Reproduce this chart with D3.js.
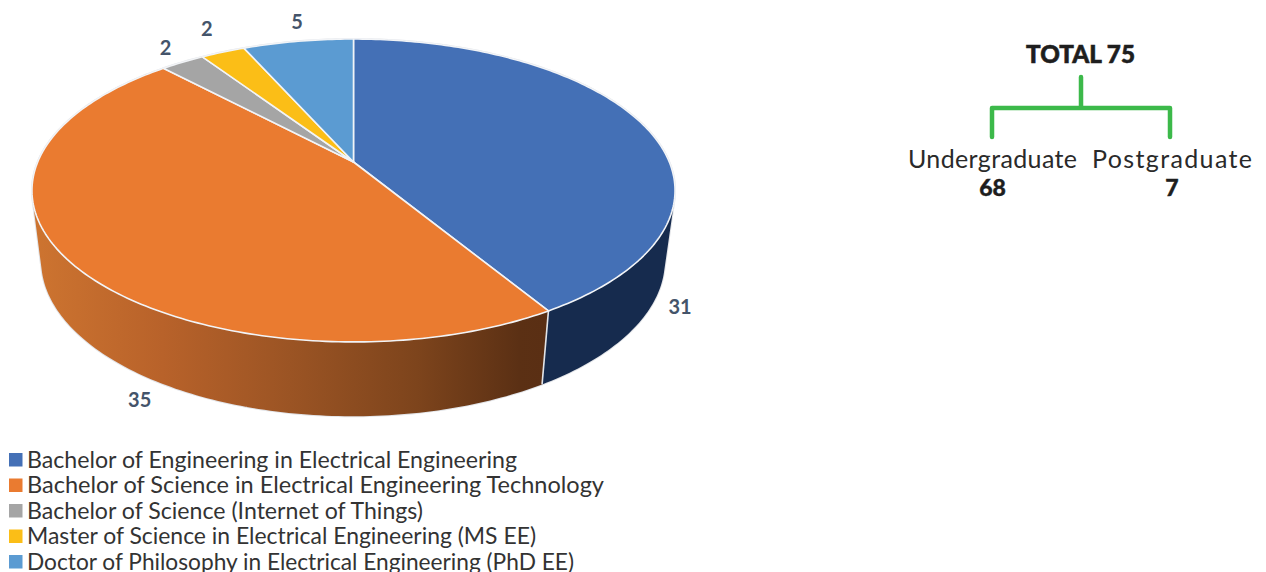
<!DOCTYPE html>
<html><head><meta charset="utf-8">
<script src="https://cdn.jsdelivr.net/npm/d3@7/dist/d3.min.js"></script>
<style>html,body{margin:0;padding:0;background:#fff}svg{display:block}</style>
</head><body><svg id="c" width="1266" height="572"></svg>
<script>
const categories = [
  "Bachelor of Engineering in Electrical Engineering",
  "Bachelor of Science in Electrical Engineering Technology",
  "Bachelor of Science (Internet of Things)",
  "Master of Science in Electrical Engineering (MS EE)",
  "Doctor of Philosophy in Electrical Engineering (PhD EE)"
];
const values = [31, 35, 2, 2, 5];
const colors = ["#4470b6", "#ea7b30", "#a5a5a5", "#fbbe17", "#5b9bd2"];
const totalLabel = "TOTAL 75";
const levels = ["Undergraduate", "Postgraduate"];
const levelValues = [68, 7];

// layout
const labelNudges = [[37,182],[70,138],[-17,-14],[-16,-23],[-1,-19]];
const legendWidths = [490,577,396,509,547];
const F = "Lato, 'Open Sans', sans-serif";
const svg = d3.select("#c");

// perspective projection of the unit disc
const k = 0.188;
const topDisc = {cx:353.5, cy:162, a:315.8, b:146.1};
const botDisc = {cx:353, cy:231.5, a:306.3, b:150};
const proj = (d, t) => {
  const u = Math.sin(t), v = Math.cos(t), w = 1 + k*v;
  return [d.cx + d.a*u/w, d.cy - d.b*v/w];
};
const arcs = d3.pie().sort(null).value(d=>d)(values);
const line = d3.line();
const samples = (a0,a1) => d3.range(0,1.0001,1/Math.max(2,Math.ceil((a1-a0)*60))).map(f=>a0+(a1-a0)*f);

const defs = svg.append("defs");
const g = defs.append("linearGradient").attr("id","wall").attr("gradientUnits","userSpaceOnUse")
  .attr("x1",35).attr("x2",545).attr("y1",0).attr("y2",0);
[[0,"#cd7430"],[.25,"#b8622a"],[.5,"#9b5424"],[.75,"#7d441c"],[.95,"#5b3014"],[1,"#5a2f14"]]
  .forEach(([o,c])=>g.append("stop").attr("offset",o).attr("stop-color",c));
const wallFill = ["#162b4e","url(#wall)","#646464","#96720e","#365d7e"];

// outline of the swept walls, under the fills
const edge = "#e2e4e8";
const allT = samples(0, 2*Math.PI);
const hull = d3.polygonHull(allT.flatMap(t=>[proj(topDisc,t),proj(botDisc,t)]));
svg.append("path").attr("d",line(hull)+"Z").attr("fill","none").attr("stroke",edge).attr("stroke-width",2);

// walls: each slice is swept as quads of one orientation in a single path, so the fill is their union
const quad = (a,b) => {
  const q = [proj(topDisc,a),proj(topDisc,b),proj(botDisc,b),proj(botDisc,a)];
  return line(d3.polygonArea(q) < 0 ? q.reverse() : q)+"Z";
};
svg.append("g").selectAll("path").data(arcs).join("path")
  .attr("d",d=>d3.pairs(samples(d.startAngle,d.endAngle)).map(([a,b])=>quad(a,b)).join(""))
  .attr("fill",(d,i)=>wallFill[i]);
// seam between the two visible walls
const seam = arcs[0].endAngle;
svg.append("path").attr("d",line([proj(topDisc,seam),proj(botDisc,seam)]))
  .attr("stroke",edge).attr("stroke-width",1.6).attr("fill","none");

// top face
svg.append("g").selectAll("path").data(arcs).join("path")
  .attr("d",d=>{
    const ts = samples(d.startAngle,d.endAngle);
    return line([[topDisc.cx,topDisc.cy]].concat(ts.map(t=>proj(topDisc,t))))+"Z";
  })
  .attr("fill",(d,i)=>colors[i])
  .attr("stroke","#f2f4f7").attr("stroke-width",1.6).attr("stroke-linejoin","round");

// value labels
svg.append("g").selectAll("text").data(arcs).join("text")
  .attr("x",(d,i)=>proj(topDisc,(d.startAngle+d.endAngle)/2)[0]+labelNudges[i][0])
  .attr("y",(d,i)=>proj(topDisc,(d.startAngle+d.endAngle)/2)[1]+labelNudges[i][1])
  .attr("dy","0.36em").attr("text-anchor","middle")
  .attr("font-family",F).attr("font-weight",700).attr("font-size",20).attr("fill","#44546a")
  .text(d=>d.data);

// legend
const ly = d3.scalePoint().domain(categories).range([460,562]);
const lg = svg.append("g").selectAll("g").data(categories).join("g")
  .attr("transform",d=>`translate(0,${ly(d)})`);
lg.append("rect").attr("x",9).attr("y",-7).attr("width",13.5).attr("height",13.5)
  .attr("fill",(d,i)=>colors[i]);
lg.append("text").attr("x",27).attr("y",7.5).attr("font-family",F).attr("font-size",22.5).attr("fill","#333")
  .attr("textLength",(d,i)=>legendWidths[i]).attr("lengthAdjust","spacingAndGlyphs").text(d=>d);

// summary tree
svg.append("text").attr("x",1080.5).attr("y",63).attr("text-anchor","middle")
  .attr("font-family",F).attr("font-weight",900).attr("font-size",25.5).attr("fill","#1e1e1e")
  .attr("stroke","#1e1e1e").attr("stroke-width",0.6)
  .attr("textLength",109).attr("lengthAdjust","spacingAndGlyphs").text(totalLabel);
svg.append("path").attr("d","M1081 77V108M992 137V108H1170V137")
  .attr("fill","none").attr("stroke","#3cb94a").attr("stroke-width",4.5)
  .attr("stroke-linecap","round").attr("stroke-linejoin","round");
const lvX = [992.5,1172], lvW = [169,160];
svg.append("g").selectAll("text").data(levels).join("text")
  .attr("x",(d,i)=>lvX[i]).attr("y",168).attr("text-anchor","middle")
  .attr("font-family",F).attr("font-weight",400).attr("font-size",25).attr("fill","#2a2a2a")
  .attr("textLength",(d,i)=>lvW[i]).attr("lengthAdjust","spacing").text(d=>d);
svg.append("g").selectAll("text").data(levelValues).join("text")
  .attr("x",(d,i)=>lvX[i]).attr("y",196).attr("text-anchor","middle")
  .attr("font-family",F).attr("font-weight",900).attr("font-size",23).attr("fill","#1e1e1e")
  .attr("stroke","#1e1e1e").attr("stroke-width",0.4)
  .text(d=>d);
</script></body></html>
